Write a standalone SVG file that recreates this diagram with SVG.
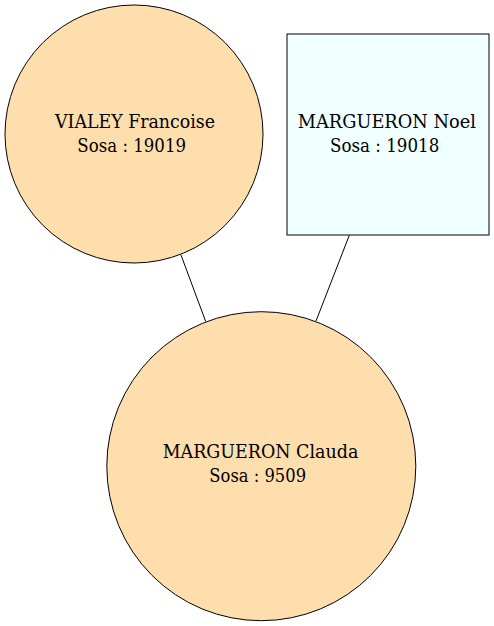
<svg xmlns="http://www.w3.org/2000/svg" width="494" height="626" viewBox="0 0 494 626">
<style>
.w{fill:#ffdead;stroke:#000;stroke-width:1}
.m{fill:#f0ffff;stroke:#000;stroke-width:1}
.e{stroke:#000;stroke-width:1;fill:none}
.t{font-family:'DejaVu Serif',serif;font-size:19px;text-anchor:middle;fill:#000}
</style>
<rect width="494" height="626" fill="#fff"/>
<g id="edges">
<line class="e" x1="181" y1="255" x2="205.7" y2="321.5"/>
<line class="e" x1="349.3" y1="235.3" x2="316" y2="321"/>
</g>
<g id="node-vialey">
<circle class="w" cx="134" cy="134" r="129"/>
<text class="t" x="135" y="127.7" textLength="160" lengthAdjust="spacingAndGlyphs">VIALEY Francoise</text>
<text class="t" x="131.7" y="151.7" textLength="108.7" lengthAdjust="spacingAndGlyphs">Sosa : 19019</text>
</g>
<g id="node-noel">
<rect class="m" x="287" y="34" width="202" height="201"/>
<text class="t" x="386.9" y="127.7" textLength="178.3" lengthAdjust="spacingAndGlyphs">MARGUERON Noel</text>
<text class="t" x="384.7" y="151.7" textLength="109.3" lengthAdjust="spacingAndGlyphs">Sosa : 19018</text>
</g>
<g id="node-claude">
<circle class="w" cx="261.3" cy="466.2" r="154.5"/>
<text class="t" x="260.5" y="458.3" textLength="195.7" lengthAdjust="spacingAndGlyphs">MARGUERON Clauda</text>
<text class="t" x="257.7" y="482.3" textLength="96.7" lengthAdjust="spacingAndGlyphs">Sosa : 9509</text>
</g>
</svg>
